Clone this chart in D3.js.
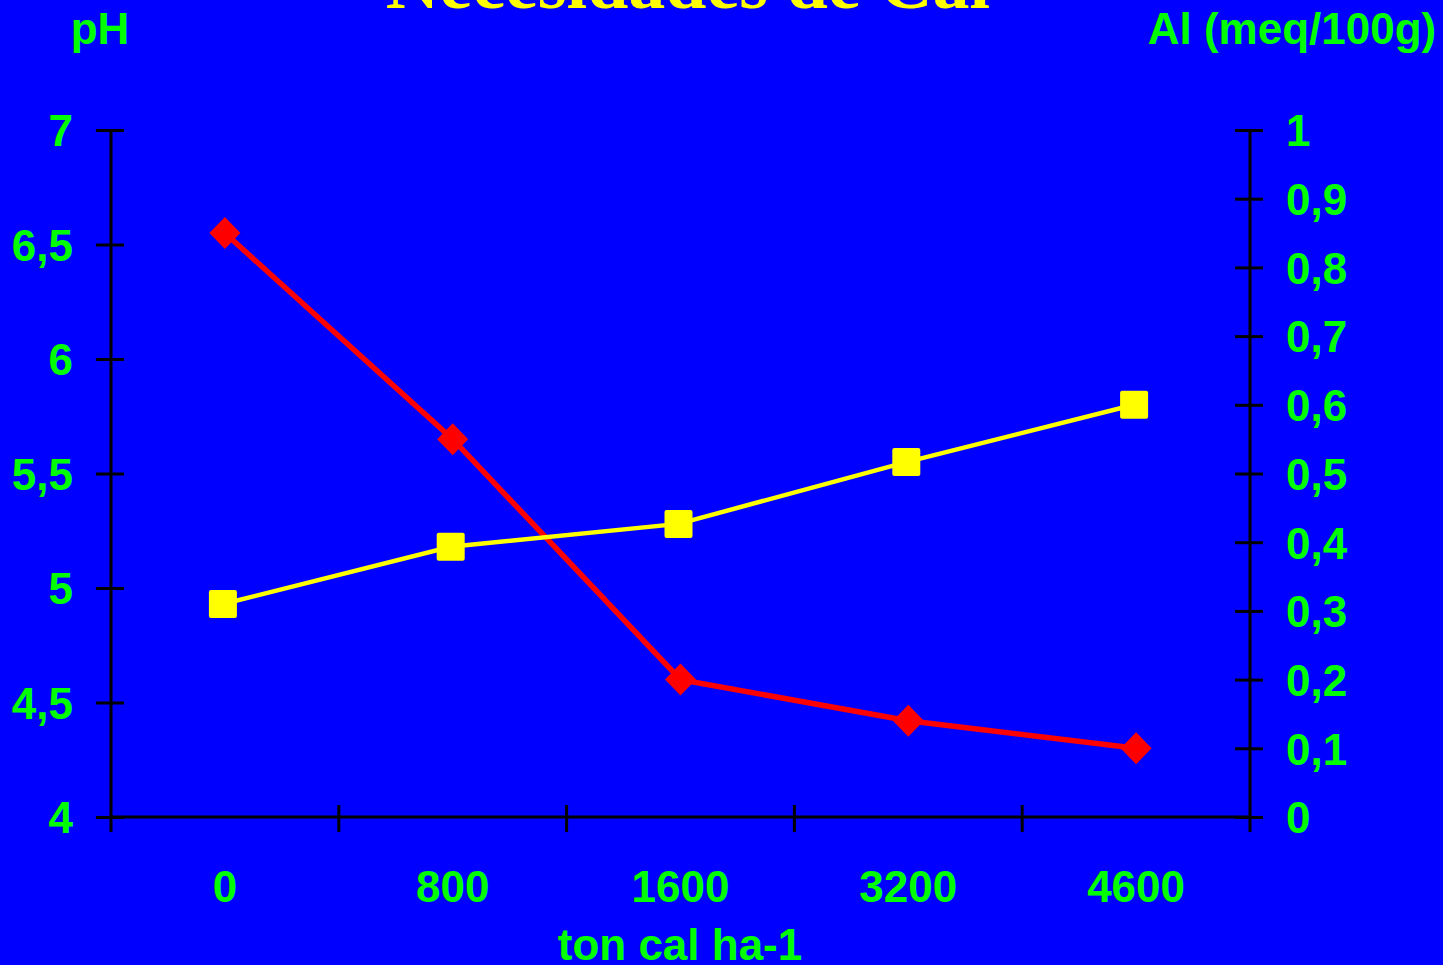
<!DOCTYPE html>
<html>
<head>
<meta charset="utf-8">
<script src="https://cdn.jsdelivr.net/npm/d3@7"></script>
<style>
  html, body { margin: 0; padding: 0; background: #0000FF; overflow: hidden; }
  svg { display: block; }
</style>
</head>
<body>
<script>
// ---- data ----
const categories = ["0", "800", "1600", "3200", "4600"];
const phValues = [4.93, 5.18, 5.28, 5.55, 5.80];      // yellow, left axis
const alValues = [0.85, 0.55, 0.20, 0.14, 0.10];      // red, right axis
const titleText = "Necesidades de Cal";
const leftAxisTitle = "pH";
const rightAxisTitle = "Al (meq/100g)";
const xAxisTitle = "ton cal ha-1";

const W = 1443, H = 965;
const plotLeft = 111, plotRight = 1250, plotTop = 130, plotBottom = 817;
const font = "'Liberation Sans', Arial, sans-serif";
const green = "#00FF00";

const svg = d3.select("body").append("svg").attr("width", W).attr("height", H);
svg.append("rect").attr("width", W).attr("height", H).attr("fill", "#0000FF");

const x = d3.scaleBand().domain(categories).range([plotLeft, plotRight]).padding(0);
const yL = d3.scaleLinear().domain([4, 7]).range([plotBottom, plotTop]);
const yR = d3.scaleLinear().domain([0, 1]).range([plotBottom, plotTop]);

const fmt = v => d3.format("~g")(+v.toFixed(2)).replace(".", ",");

// Title (mostly cut off at top)
svg.append("text").attr("x", 688).attr("y", 8)
  .attr("text-anchor", "middle")
  .attr("font-family", "'Liberation Serif', 'Times New Roman', serif")
  .attr("font-weight", "bold").attr("font-size", 74)
  .attr("fill", "#FFFF00").text(titleText);

// Left axis
const gL = svg.append("g").attr("transform", `translate(${plotLeft},0)`)
  .call(d3.axisLeft(yL).tickValues(yL.ticks(6)).tickSize(0).tickPadding(38).tickFormat(fmt));
gL.select(".domain").remove();
gL.selectAll(".tick text").attr("font-family", font).attr("font-weight", "bold")
  .attr("font-size", 44).attr("fill", green).attr("dy", "0.36em");
gL.selectAll(".tick").append("line").attr("x1", -15).attr("x2", 13)
  .attr("stroke", "#000").attr("stroke-width", 3);
gL.append("line").attr("x1", 0).attr("x2", 0).attr("y1", plotTop).attr("y2", plotBottom + 15)
  .attr("stroke", "#000").attr("stroke-width", 3);

// Right axis
const gR = svg.append("g").attr("transform", `translate(${plotRight},0)`)
  .call(d3.axisRight(yR).tickValues(yR.ticks(10)).tickSize(0).tickPadding(36).tickFormat(fmt));
gR.select(".domain").remove();
gR.selectAll(".tick text").attr("font-family", font).attr("font-weight", "bold")
  .attr("font-size", 44).attr("fill", green).attr("dy", "0.36em");
gR.selectAll(".tick").append("line").attr("x1", -15).attr("x2", 13)
  .attr("stroke", "#000").attr("stroke-width", 3);
gR.append("line").attr("x1", 0).attr("x2", 0).attr("y1", plotTop).attr("y2", plotBottom + 15)
  .attr("stroke", "#000").attr("stroke-width", 3);

// X axis
const gX = svg.append("g").attr("transform", `translate(0,${plotBottom})`);
gX.append("line").attr("x1", plotLeft).attr("x2", plotRight).attr("stroke", "#000").attr("stroke-width", 3);
const bounds = categories.slice(1).map(c => x(c));
gX.selectAll("line.xt").data(bounds).join("line").attr("class", "xt")
  .attr("x1", d => d).attr("x2", d => d).attr("y1", -12).attr("y2", 15)
  .attr("stroke", "#000").attr("stroke-width", 3);
gX.selectAll("text.xl").data(categories).join("text").attr("class", "xl")
  .attr("x", d => x(d) + x.bandwidth() / 2).attr("y", 85)
  .attr("text-anchor", "middle").attr("font-family", font).attr("font-weight", "bold")
  .attr("font-size", 44).attr("fill", green).text(d => d);

// Axis titles
svg.append("text").attr("x", 100).attr("y", 44).attr("text-anchor", "middle")
  .attr("font-family", font).attr("font-weight", "bold").attr("font-size", 44)
  .attr("fill", green).text(leftAxisTitle);
svg.append("text").attr("x", 1292).attr("y", 44).attr("text-anchor", "middle")
  .attr("font-family", font).attr("font-weight", "bold").attr("font-size", 44)
  .attr("fill", green).text(rightAxisTitle);
svg.append("text").attr("x", 680).attr("y", 960).attr("text-anchor", "middle")
  .attr("font-family", font).attr("font-weight", "bold").attr("font-size", 44)
  .attr("fill", green).text(xAxisTitle);

const cx = c => x(c) + x.bandwidth() / 2;

// Red series (Al, right axis)
const alData = categories.map((c, i) => ({ c, v: alValues[i] }));
svg.append("path").datum(alData)
  .attr("d", d3.line().x(d => cx(d.c)).y(d => yR(d.v)))
  .attr("fill", "none").attr("stroke", "#FF0000").attr("stroke-width", 5.5);
svg.selectAll("path.dia").data(alData).join("path").attr("class", "dia")
  .attr("transform", d => `translate(${cx(d.c)},${yR(d.v)})`)
  .attr("d", "M0,-16L15.5,0L0,16L-15.5,0Z").attr("fill", "#FF0000");

// Yellow series (pH, left axis)
const phData = categories.map((c, i) => ({ c, v: phValues[i] }));
svg.append("path").datum(phData)
  .attr("d", d3.line().x(d => cx(d.c) - 2).y(d => yL(d.v)))
  .attr("fill", "none").attr("stroke", "#FFFF00").attr("stroke-width", 4.5);
svg.selectAll("rect.sq").data(phData).join("rect").attr("class", "sq")
  .attr("x", d => cx(d.c) - 2 - 14).attr("y", d => yL(d.v) - 14)
  .attr("width", 28).attr("height", 28).attr("rx", 2)
  .attr("fill", "#FFFF00");
</script>
</body>
</html>
